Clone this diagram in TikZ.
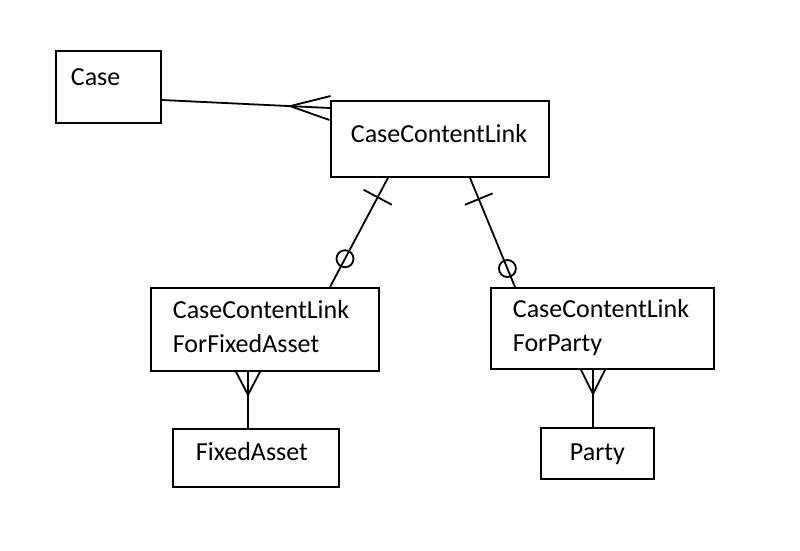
\documentclass[tikz,border=0pt]{standalone}
\usepackage{fontspec}
\setmainfont{Carlito}
\usetikzlibrary{calc}

\begin{document}
\begin{tikzpicture}[x=1pt, y=-1pt, line width=1.8pt,
    every node/.style={font=\fontsize{26}{34}\selectfont},
    entity/.style={draw, rectangle, anchor=north west, align=left, inner ysep=0pt}]
    \useasboundingbox (0,0) rectangle (800,550);

    % Entities
    \node[entity, inner xsep=15pt, text width=75pt, text height=35pt, text depth=37pt] (case) at (55,50) {Case};
    \node[entity, inner xsep=20pt, text width=178pt, text height=42pt, text depth=34pt] (ccl) at (330,100) {CaseContentLink};
    \node[entity, inner xsep=22pt, text width=184pt, text height=31pt, text depth=52pt] (cclasset) at (150,287) {CaseContentLink\\ForFixedAsset};
    \node[entity, inner xsep=22pt, text width=179pt, text height=30pt, text depth=51pt] (cclparty) at (490,287) {CaseContentLink\\ForParty};
    \node[entity, inner xsep=23pt, text width=120pt, text height=32pt, text depth=26pt] (asset) at (172,428) {FixedAsset};
    \node[entity, inner xsep=29pt, text width=55pt, text height=33pt, text depth=18pt] (party) at (540,427) {Party};

    % Case -- CaseContentLink (many at link)
    \coordinate (caseOut) at ($(case.north east)+(0,50)$);
    \coordinate (cclIn) at ($(ccl.north west)+(0,8)$);
    \draw (caseOut) -- (cclIn);
    \coordinate (footC) at ($(cclIn)!40pt!(caseOut)$);
    \draw ($(cclIn)!12pt!90:(caseOut)$) -- (footC) -- ($(cclIn)!12pt!-90:(caseOut)$);

    % CaseContentLink -- ForFixedAsset (one / zero or one)
    \coordinate (cclA) at ($(ccl.south west)+(58,0)$);
    \coordinate (assetIn) at ($(cclasset.north west)+(180,0)$);
    \draw (cclA) -- (assetIn);
    \coordinate (barA) at ($(cclA)!22pt!(assetIn)$);
    \draw ($(barA)!16pt!90:(assetIn)$) -- ($(barA)!16pt!-90:(assetIn)$);
    \draw ($(assetIn)!32pt!(cclA)$) circle (8.5pt);

    % CaseContentLink -- ForParty (one / zero or one)
    \coordinate (cclP) at ($(ccl.south west)+(140,0)$);
    \coordinate (partyIn) at ($(cclparty.north west)+(25,0)$);
    \draw (cclP) -- (partyIn);
    \coordinate (barP) at ($(cclP)!23pt!(partyIn)$);
    \draw ($(barP)!15pt!90:(partyIn)$) -- ($(barP)!15pt!-90:(partyIn)$);
    \draw ($(partyIn)!20pt!(cclP)$) circle (8.5pt);

    % ForFixedAsset -- FixedAsset (many at link)
    \coordinate (assetOut) at ($(cclasset.south west)+(98,0)$);
    \coordinate (assetTop) at ($(asset.north west)+(76,0)$);
    \draw (assetOut) -- (assetTop);
    \coordinate (footA) at ($(assetOut)!23pt!(assetTop)$);
    \draw ($(assetOut)!12pt!90:(assetTop)$) -- (footA) -- ($(assetOut)!12pt!-90:(assetTop)$);

    % ForParty -- Party (many at link)
    \coordinate (partyOut) at ($(cclparty.south west)+(103,0)$);
    \coordinate (partyTop) at ($(party.north west)+(53,0)$);
    \draw (partyOut) -- (partyTop);
    \coordinate (footP) at ($(partyOut)!24pt!(partyTop)$);
    \draw ($(partyOut)!12pt!90:(partyTop)$) -- (footP) -- ($(partyOut)!12pt!-90:(partyTop)$);
\end{tikzpicture}
\end{document}
